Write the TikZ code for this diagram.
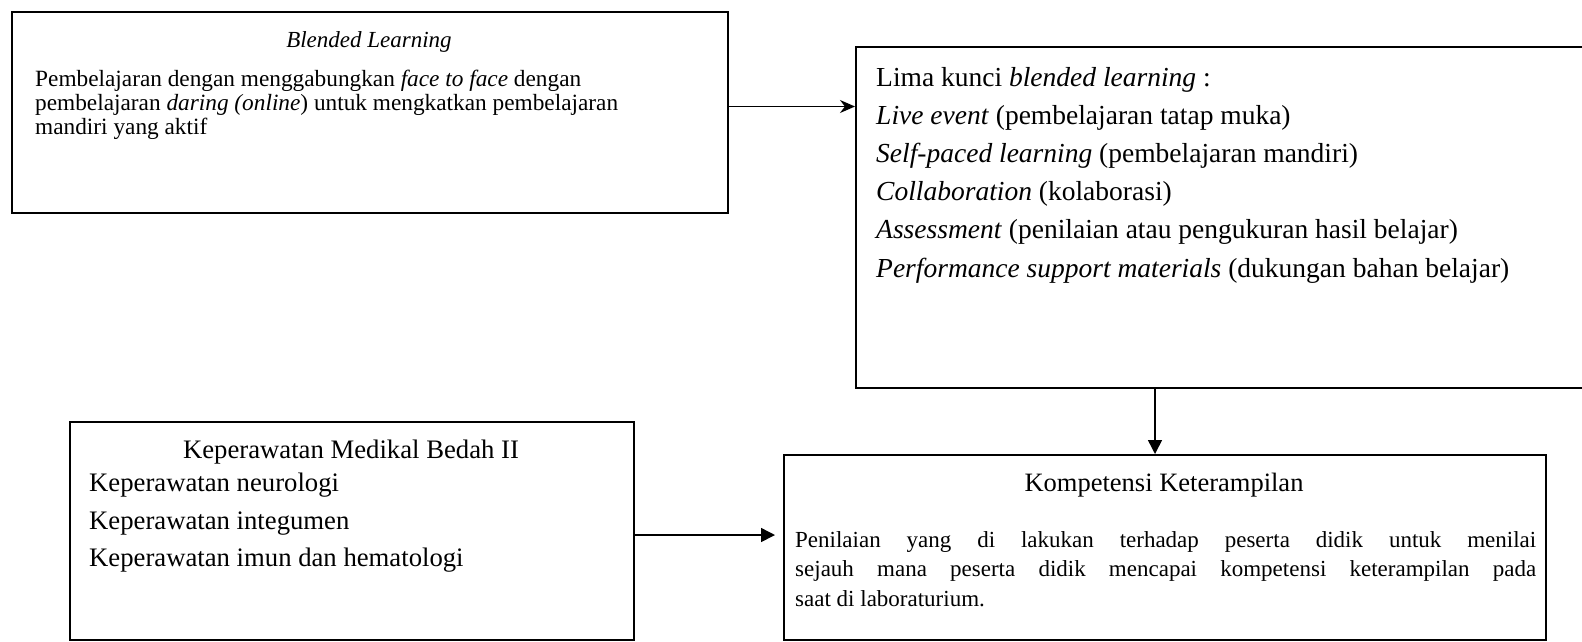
\documentclass[tikz,border=0pt]{standalone}
\usepackage{fontspec}
\setmainfont{Liberation Serif}
\usetikzlibrary{arrows.meta,positioning}

\tikzset{
  box/.style={draw, line width=2pt, inner sep=0pt, anchor=north west},
  txt/.style={inner sep=0pt, font=\fontsize{23.3}{24.2}\selectfont},
  arr/.style={line width=1.5pt, -{Triangle[length=14pt,width=14pt]}},
  arrs/.style={line width=1.5pt, -{Stealth[length=15pt,width=13pt]}}
}

\begin{document}
\begin{tikzpicture}[x=1pt,y=-1pt]
\useasboundingbox (0,0) rectangle (1582,641);

% boxes
\node[box, minimum width=716pt, minimum height=201pt] (blend) at (11,11) {};
\node[box, minimum width=735pt, minimum height=341pt] (lima) at (855,46) {};
\node[box, minimum width=564pt, minimum height=218pt] (kmb) at (69,421) {};
\node[box, minimum width=762pt, minimum height=185pt] (komp) at (783,454) {};

% texts
\node[txt, font=\fontsize{23}{24}\selectfont] (blendtitle) at (369,42) {\textit{Blended Learning}};
\node[txt, anchor=west, align=left] (blendbody) at (35,105) {%
  Pembelajaran dengan menggabungkan \textit{face to face} dengan\\
  pembelajaran \textit{daring (online}) untuk mengkatkan pembelajaran\\
  mandiri yang aktif};

\node[txt, anchor=west, align=left, font=\fontsize{27.5}{38.2}\selectfont] (limabody) at (876,175) {%
  Lima kunci \textit{blended learning} :\\
  \textit{Live event} (pembelajaran tatap muka)\\
  \textit{Self-paced learning} (pembelajaran mandiri)\\
  \textit{Collaboration} (kolaborasi)\\
  \textit{Assessment} (penilaian atau pengukuran hasil belajar)\\
  \textit{Performance support materials} (dukungan bahan belajar)};

\node[txt, font=\fontsize{26.7}{28}\selectfont] (kmbtitle) at (351,452) {Keperawatan Medikal Bedah II};
\node[txt, anchor=west, align=left, font=\fontsize{26.7}{37.5}\selectfont] (kmbbody) at (89,523) {%
  Keperawatan neurologi\\
  Keperawatan integumen\\
  Keperawatan imun dan hematologi};

\node[txt, font=\fontsize{26.5}{28}\selectfont] (komptitle) at (1164,485) {Kompetensi Keterampilan};
\node[txt, anchor=west, text width=741pt, align=justify, font=\fontsize{23}{29.2}\selectfont] (kompbody) at (795,569) {%
  Penilaian yang di lakukan terhadap peserta didik untuk menilai\linebreak
  sejauh mana peserta didik mencapai kompetensi keterampilan pada\linebreak
  saat di laboraturium.};

% arrows
\draw[arrs] ([yshift=6pt]blend.east) -- ([yshift=6pt]blend.east -| lima.west);
\draw[arr] ([xshift=-10pt]komp.north |- lima.south) -- ([xshift=-10pt]komp.north);
\draw[arr, shorten >=8pt] ([yshift=-4pt]kmb.east) -- ([yshift=-4pt]kmb.east -| komp.west);
\end{tikzpicture}
\end{document}
